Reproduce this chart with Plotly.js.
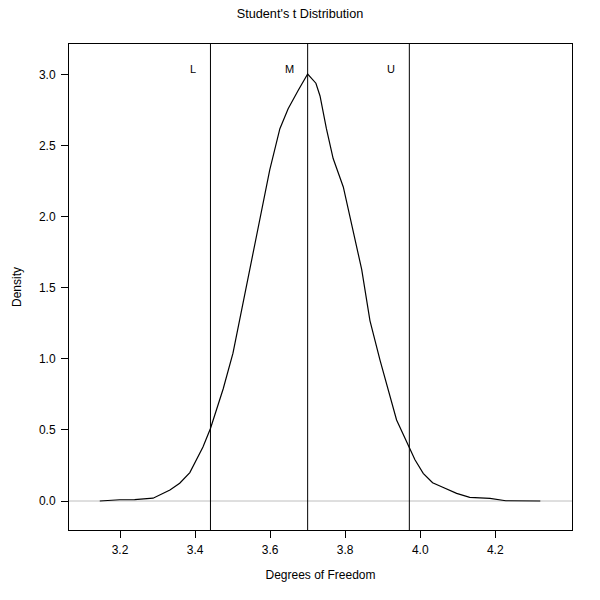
<!DOCTYPE html>
<html>
<head>
<meta charset="utf-8">
<script src="https://cdn.plot.ly/plotly-3.0.1.min.js"></script>
<style>
  html, body { margin: 0; padding: 0; background: #fff; }
  #chart { width: 600px; height: 600px; }
</style>
</head>
<body>
<div id="chart"></div>
<script>
// Density curve of the degrees-of-freedom estimate
const dfValues = [3.146, 3.199, 3.239, 3.288, 3.333, 3.359, 3.386, 3.399, 3.421, 3.441,
                  3.457, 3.475, 3.501, 3.524, 3.546, 3.573, 3.599, 3.626, 3.648, 3.675,
                  3.700, 3.722, 3.733, 3.750, 3.768, 3.795, 3.821, 3.844, 3.866, 3.893,
                  3.937, 3.971, 3.986, 4.008, 4.033, 4.057, 4.097, 4.132, 4.186, 4.228, 4.320];
const density = [0.000, 0.009, 0.010, 0.020, 0.077, 0.125, 0.200, 0.265, 0.380, 0.510,
                 0.650, 0.790, 1.040, 1.345, 1.640, 1.980, 2.330, 2.620, 2.760, 2.890,
                 3.005, 2.940, 2.850, 2.620, 2.410, 2.210, 1.910, 1.630, 1.270, 0.990,
                 0.570, 0.380, 0.290, 0.195, 0.129, 0.100, 0.054, 0.026, 0.019, 0.002, 0.000];

// Lower bound, mode, upper bound
const markerLabels = ['L', 'M', 'U'];
const markerValues = [3.441, 3.700, 3.971];
const labelHeight = 3.04;

const xTicks = [3.2, 3.4, 3.6, 3.8, 4.0, 4.2];
const xTickText = ['3.2', '3.4', '3.6', '3.8', '4.0', '4.2'];
const yTicks = [0, 0.5, 1, 1.5, 2, 2.5, 3];
const yTickText = ['0.0', '0.5', '1.0', '1.5', '2.0', '2.5', '3.0'];

const font = 'Liberation Sans, Arial, Helvetica, sans-serif';

const shapes = markerValues.map(v => ({
    type: 'line', xref: 'x', yref: 'paper',
    x0: v, x1: v, y0: 0, y1: 1,
    line: { color: 'black', width: 1 }
}));
// gray zero line
shapes.unshift({
    type: 'line', xref: 'paper', yref: 'y',
    x0: 0, x1: 1, y0: 0, y1: 0,
    line: { color: '#bebebe', width: 1 },
    layer: 'below'
});

const annotations = markerLabels.map((lab, i) => ({
    x: markerValues[i], y: labelHeight, xref: 'x', yref: 'y',
    text: lab, showarrow: false,
    xanchor: 'right', xshift: -12,
    font: { family: font, size: 11, color: 'black' }
}));

Plotly.newPlot('chart', [{
    x: dfValues,
    y: density,
    type: 'scatter',
    mode: 'lines',
    line: { color: 'black', width: 1.2 },
    hoverinfo: 'skip'
}], {
    width: 600,
    height: 600,
    showlegend: false,
    paper_bgcolor: 'white',
    plot_bgcolor: 'white',
    font: { family: font, size: 12, color: 'black' },
    title: {
        text: "Student's t Distribution",
        x: 0.5, xanchor: 'center',
        y: 0.978, yanchor: 'middle',
        font: { family: font, size: 12.7, color: 'black' }
    },
    margin: { l: 69, r: 28, t: 44, b: 70 },
    xaxis: {
        range: [3.064, 4.4045],
        tickvals: xTicks,
        ticktext: xTickText,
        ticks: 'outside', ticklen: 7, tickcolor: 'black',
        ticklabelstandoff: 2,
        showline: true, linecolor: 'black', linewidth: 1, mirror: true,
        showgrid: false, zeroline: false,
        tickfont: { size: 12 },
        title: { text: 'Degrees of Freedom', standoff: 14, font: { size: 12 } }
    },
    yaxis: {
        range: [-0.204, 3.216],
        tickvals: yTicks,
        ticktext: yTickText,
        ticks: 'outside', ticklen: 7, tickcolor: 'black',
        ticklabelstandoff: 3,
        showline: true, linecolor: 'black', linewidth: 1, mirror: true,
        showgrid: false, zeroline: false,
        tickfont: { size: 12 },
        title: { text: 'Density', standoff: 14, font: { size: 12 } }
    },
    shapes: shapes,
    annotations: annotations
}, { staticPlot: true });
</script>
</body>
</html>
